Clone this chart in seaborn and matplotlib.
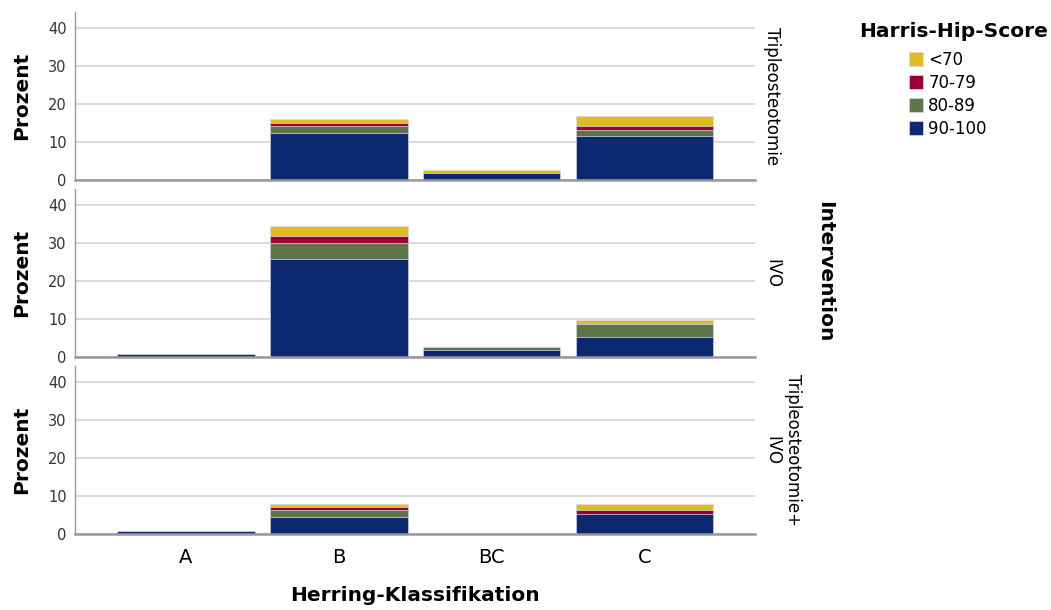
import pandas as pd
import numpy as np
import matplotlib
matplotlib.use('Agg')
import matplotlib.pyplot as plt
import seaborn as sns
from matplotlib.patches import Patch

# Daten (Prozent)
klassen = ['A', 'B', 'BC', 'C']
interventionen = ['Tripleosteotomie', 'IVO', 'Tripleosteotomie+\nIVO']
scores = ['90-100', '80-89', '70-79', '<70']
farben = {'<70': '#e1bb22', '70-79': '#9b0033', '80-89': '#5e7449', '90-100': '#0b2870'}

# Tripleosteotomie
tri_90_100 = [0.0, 12.4, 1.8, 11.5]
tri_80_89 = [0.0, 1.8, 0.0, 1.8]
tri_70_79 = [0.0, 0.9, 0.0, 0.9]
tri_lt70 = [0.0, 0.9, 0.9, 2.7]
# IVO
ivo_90_100 = [0.9, 25.7, 1.8, 5.3]
ivo_80_89 = [0.0, 4.4, 0.9, 3.5]
ivo_70_79 = [0.0, 1.8, 0.0, 0.0]
ivo_lt70 = [0.0, 2.7, 0.0, 0.9]
# Tripleosteotomie + IVO
kom_90_100 = [0.9, 4.4, 0.0, 5.3]
kom_80_89 = [0.0, 1.8, 0.0, 0.0]
kom_70_79 = [0.0, 0.9, 0.0, 0.9]
kom_lt70 = [0.0, 0.9, 0.0, 1.8]

werte = {
    'Tripleosteotomie': [tri_90_100, tri_80_89, tri_70_79, tri_lt70],
    'IVO': [ivo_90_100, ivo_80_89, ivo_70_79, ivo_lt70],
    'Tripleosteotomie+\nIVO': [kom_90_100, kom_80_89, kom_70_79, kom_lt70],
}

rows = []
for interv in interventionen:
    for score, vals in zip(scores, werte[interv]):
        for k, v in zip(klassen, vals):
            rows.append({'Intervention': interv, 'Score': score, 'Klasse': k, 'Prozent': v})
df = pd.DataFrame(rows)
# kumulierte Werte fuer gestapelte Balken
df['kum'] = df.groupby(['Intervention', 'Klasse'])['Prozent'].cumsum()

sns.set_theme(style='white')
plt.rcParams['font.family'] = ['DejaVu Sans']
plt.rcParams['text.color'] = 'black'
plt.rcParams['axes.labelcolor'] = 'black'
plt.rcParams['xtick.color'] = 'black'

fig, axes = plt.subplots(3, 1, figsize=(10.51, 6.10), dpi=100, sharex=True)
fig.subplots_adjust(left=0.0714, right=0.718, top=0.980, bottom=0.1246, hspace=0.054)

for ax, interv in zip(axes, interventionen):
    ax.yaxis.grid(True, color='#cfcfcf', linewidth=1.1)
    ax.set_axisbelow(True)
    sub = df[df['Intervention'] == interv]
    for score in reversed(scores):
        s = sub[(sub['Score'] == score) & (sub['Prozent'] > 0)]
        if len(s) == 0:
            continue
        sns.barplot(data=s, x='Klasse', y='kum', order=klassen, color=farben[score],
                    width=0.9, errorbar=None, saturation=1, edgecolor='#d8dbe6',
                    linewidth=0.5, ax=ax)
    ax.set_xlim(-0.725, 3.72)
    ax.set_ylim(0, 44.2)
    ax.set_yticks([0, 10, 20, 30, 40])
    ax.tick_params(axis='y', length=0, labelsize=10.5, labelcolor='#333333', pad=6)
    ax.tick_params(axis='x', length=0, labelsize=14, pad=10)
    ax.set_ylabel('Prozent', fontsize=14.5, fontweight='bold', labelpad=12)
    ax.set_xlabel('')
    for side in ['top', 'right']:
        ax.spines[side].set_visible(False)
    ax.spines['left'].set_color('#999999')
    ax.spines['left'].set_linewidth(1.0)
    ax.spines['bottom'].set_color('#999999')
    ax.spines['bottom'].set_linewidth(1.8)
    ax.text(1.013, 0.5, interv, transform=ax.transAxes, rotation=-90,
            ha='left', va='center', fontsize=12, multialignment='center')

axes[-1].set_xlabel('Herring-Klassifikation', fontsize=14.5, fontweight='bold', labelpad=14)

fig.text(0.785, 0.555, 'Intervention', rotation=-90, ha='center', va='center',
         fontsize=14.5, fontweight='bold')

fig.text(0.907, 0.948, 'Harris-Hip-Score', ha='center', va='center',
         fontsize=14.5, fontweight='bold')
handles = [Patch(facecolor=farben[s], edgecolor='#d8dbe6', linewidth=0.5, label=s)
           for s in ['<70', '70-79', '80-89', '90-100']]
fig.legend(handles=handles, loc='upper left', bbox_to_anchor=(0.865, 0.917),
           frameon=False, fontsize=12, handlelength=0.85, handleheight=0.85,
           handletextpad=0.3, labelspacing=0.3, borderaxespad=0, borderpad=0)

plt.savefig('out.png', dpi=100)
